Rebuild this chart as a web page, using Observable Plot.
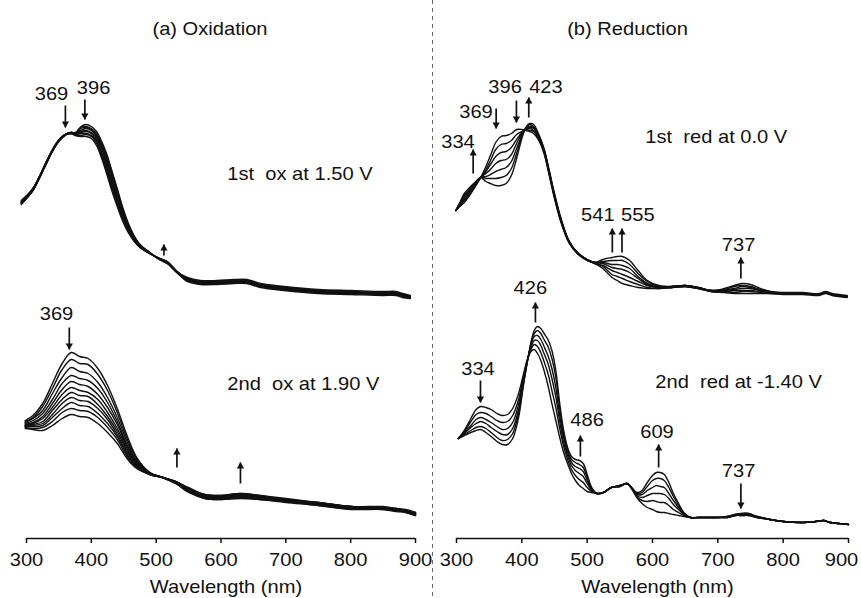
<!DOCTYPE html>
<html><head><meta charset="utf-8">
<script src="https://cdn.jsdelivr.net/npm/d3@7"></script>
<script src="https://cdn.jsdelivr.net/npm/@observablehq/plot@0.6"></script>
<style>
body{margin:0;background:#fff}
#wrap{position:relative;width:861px;height:598px;overflow:hidden;background:#fff}
#wrap svg{position:absolute;top:0}
#sep{position:absolute;left:432px;top:0;width:1px;height:598px;background:repeating-linear-gradient(to bottom,#666 0 4px,transparent 4px 8px)}
#wrap text{white-space:pre}
g[aria-label="x-axis tick"]{stroke-width:1.5px}
</style></head><body>
<div id="wrap"><div id="sep"></div></div>
<script>
// ---------- text ----------
const panelTitles = ["(a) Oxidation", "(b) Reduction"];
const axisTitle = "Wavelength (nm)";
const xTicks = [300, 400, 500, 600, 700, 800, 900];

// ---------- (a) 1st oxidation at 1.50 V : rows = wavelength, columns = successive scans ----------
const ox1Wl = [292,300,310,320,330,340,350,360,369,376,384,392,400,408,416,424,432,440,448,456,465,475,490,505,517,532,548,568,594,620,640,661,697,750,800,850,870,880,892];
const ox1Scans = [
[3.34,3.35,3.35,3.36,3.36,3.36,3.37,3.37,3.38],
[3.40,3.40,3.41,3.41,3.41,3.42,3.42,3.42,3.43],
[3.48,3.48,3.49,3.49,3.49,3.49,3.50,3.50,3.50],
[3.60,3.61,3.61,3.61,3.61,3.62,3.62,3.62,3.62],
[3.74,3.74,3.75,3.75,3.75,3.75,3.76,3.76,3.76],
[3.87,3.87,3.88,3.88,3.88,3.88,3.88,3.89,3.89],
[3.97,3.98,3.98,3.98,3.98,3.98,3.98,3.98,3.99],
[4.03,4.04,4.04,4.04,4.04,4.04,4.04,4.04,4.04],
[4.06,4.06,4.06,4.06,4.06,4.05,4.05,4.05,4.05],
[4.06,4.06,4.05,4.05,4.05,4.04,4.04,4.03,4.03],
[4.12,4.11,4.10,4.08,4.07,4.06,4.05,4.03,4.02],
[4.14,4.12,4.11,4.10,4.08,4.07,4.05,4.04,4.02],
[4.12,4.10,4.09,4.08,4.06,4.05,4.03,4.02,4.00],
[4.07,4.05,4.03,4.02,4.00,3.98,3.97,3.95,3.93],
[3.97,3.95,3.93,3.91,3.89,3.86,3.84,3.82,3.80],
[3.84,3.82,3.79,3.77,3.74,3.72,3.69,3.67,3.64],
[3.67,3.65,3.62,3.60,3.57,3.55,3.52,3.50,3.47],
[3.50,3.48,3.46,3.43,3.41,3.39,3.37,3.34,3.32],
[3.32,3.30,3.29,3.27,3.25,3.23,3.22,3.20,3.18],
[3.17,3.16,3.15,3.13,3.12,3.11,3.10,3.08,3.07],
[3.04,3.03,3.03,3.02,3.01,3.00,3.00,2.99,2.98],
[2.94,2.94,2.93,2.93,2.92,2.92,2.92,2.91,2.91],
[2.86,2.86,2.86,2.86,2.85,2.85,2.85,2.85,2.85],
[2.79,2.79,2.79,2.79,2.80,2.80,2.80,2.80,2.80],
[2.75,2.75,2.76,2.76,2.76,2.76,2.77,2.77,2.77],
[2.66,2.66,2.66,2.66,2.67,2.67,2.67,2.67,2.67],
[2.57,2.58,2.58,2.59,2.59,2.59,2.60,2.60,2.61],
[2.54,2.55,2.55,2.56,2.56,2.56,2.57,2.57,2.58],
[2.54,2.55,2.55,2.56,2.56,2.56,2.57,2.57,2.58],
[2.55,2.56,2.56,2.57,2.57,2.57,2.58,2.58,2.59],
[2.55,2.56,2.56,2.57,2.57,2.57,2.58,2.58,2.59],
[2.51,2.52,2.52,2.53,2.53,2.53,2.54,2.54,2.55],
[2.48,2.49,2.49,2.50,2.50,2.50,2.51,2.51,2.52],
[2.45,2.46,2.46,2.47,2.47,2.47,2.48,2.48,2.49],
[2.44,2.45,2.45,2.46,2.46,2.46,2.47,2.47,2.48],
[2.43,2.44,2.44,2.45,2.45,2.45,2.46,2.46,2.47],
[2.43,2.44,2.44,2.45,2.45,2.45,2.46,2.46,2.47],
[2.41,2.42,2.42,2.43,2.43,2.43,2.44,2.44,2.45],
[2.40,2.40,2.41,2.41,2.41,2.42,2.42,2.42,2.43]];

// ---------- (a) 2nd oxidation at 1.90 V ----------
const ox2Wl = [298,310,325,340,355,369,382,395,410,425,440,455,470,490,510,530,550,575,600,630,660,700,750,800,850,870,885,900];
const ox2Scans = [
[1.18,1.17,1.16,1.15,1.14,1.13,1.13,1.12,1.12,1.11,1.10],
[1.23,1.21,1.20,1.18,1.16,1.15,1.14,1.13,1.12,1.10,1.09],
[1.35,1.32,1.28,1.25,1.22,1.20,1.17,1.15,1.13,1.11,1.08],
[1.55,1.50,1.45,1.39,1.35,1.31,1.28,1.24,1.21,1.17,1.13],
[1.75,1.69,1.61,1.55,1.49,1.44,1.39,1.35,1.30,1.26,1.20],
[1.86,1.79,1.71,1.63,1.57,1.51,1.46,1.41,1.36,1.30,1.24],
[1.82,1.75,1.67,1.60,1.54,1.48,1.43,1.38,1.33,1.28,1.22],
[1.80,1.74,1.65,1.58,1.52,1.46,1.42,1.37,1.32,1.27,1.21],
[1.70,1.64,1.56,1.50,1.44,1.39,1.34,1.30,1.25,1.21,1.15],
[1.53,1.48,1.41,1.36,1.31,1.26,1.22,1.19,1.15,1.11,1.06],
[1.30,1.26,1.21,1.17,1.14,1.10,1.07,1.04,1.02,0.99,0.95],
[1.03,1.00,0.97,0.94,0.92,0.90,0.88,0.86,0.84,0.82,0.80],
[0.81,0.80,0.78,0.77,0.76,0.75,0.74,0.73,0.72,0.71,0.70],
[0.66,0.66,0.66,0.65,0.65,0.65,0.65,0.65,0.64,0.64,0.64],
[0.61,0.61,0.61,0.61,0.61,0.61,0.61,0.61,0.61,0.61,0.61],
[0.55,0.55,0.56,0.56,0.56,0.56,0.56,0.56,0.57,0.57,0.57],
[0.46,0.47,0.47,0.48,0.48,0.49,0.49,0.50,0.50,0.50,0.51],
[0.40,0.40,0.41,0.41,0.42,0.42,0.43,0.43,0.43,0.44,0.44],
[0.39,0.39,0.40,0.40,0.41,0.41,0.42,0.42,0.42,0.43,0.43],
[0.40,0.41,0.41,0.42,0.42,0.43,0.43,0.44,0.44,0.45,0.45],
[0.39,0.39,0.40,0.40,0.41,0.41,0.42,0.42,0.42,0.43,0.43],
[0.36,0.37,0.37,0.38,0.38,0.38,0.38,0.39,0.39,0.39,0.40],
[0.33,0.33,0.34,0.34,0.34,0.35,0.35,0.35,0.36,0.36,0.36],
[0.29,0.30,0.30,0.30,0.31,0.31,0.31,0.32,0.32,0.32,0.32],
[0.29,0.29,0.30,0.30,0.30,0.30,0.31,0.31,0.31,0.31,0.32],
[0.27,0.28,0.28,0.28,0.29,0.29,0.29,0.29,0.30,0.30,0.30],
[0.26,0.26,0.27,0.27,0.27,0.27,0.28,0.28,0.28,0.28,0.29],
[0.23,0.23,0.24,0.24,0.24,0.25,0.25,0.25,0.25,0.26,0.26]];

// ---------- (b) 1st reduction at 0.0 V ----------
const red1Wl = [299,305,312,320,328,337,345,352,360,368,376,384,392,400,406,412,418,426,434,442,450,460,472,485,500,512,524,538,546,554,565,578,592,610,630,650,670,690,710,725,737,750,765,780,800,830,855,865,875,885,898];
const red1Scans = [
[3.28,3.28,3.28,3.28,3.28,3.28,3.28],
[3.32,3.33,3.33,3.34,3.35,3.35,3.36],
[3.36,3.38,3.39,3.41,3.42,3.43,3.45],
[3.43,3.44,3.46,3.47,3.48,3.50,3.51],
[3.51,3.52,3.53,3.54,3.54,3.55,3.56],
[3.61,3.61,3.61,3.61,3.61,3.61,3.61],
[3.72,3.69,3.67,3.65,3.62,3.60,3.57],
[3.83,3.78,3.74,3.69,3.64,3.60,3.55],
[3.96,3.89,3.82,3.75,3.67,3.60,3.53],
[4.02,3.94,3.86,3.78,3.69,3.61,3.53],
[4.03,3.95,3.87,3.79,3.71,3.63,3.55],
[4.05,3.98,3.91,3.84,3.77,3.70,3.63],
[4.09,4.04,3.99,3.95,3.90,3.85,3.80],
[4.09,4.07,4.06,4.05,4.03,4.02,4.00],
[4.08,4.09,4.09,4.10,4.10,4.10,4.11],
[4.07,4.08,4.10,4.11,4.12,4.14,4.15],
[4.05,4.07,4.08,4.10,4.11,4.12,4.14],
[3.98,3.99,4.00,4.01,4.02,4.03,4.04],
[3.85,3.86,3.87,3.88,3.88,3.89,3.90],
[3.63,3.64,3.65,3.66,3.66,3.67,3.68],
[3.40,3.41,3.42,3.43,3.43,3.44,3.45],
[3.16,3.17,3.17,3.18,3.19,3.19,3.20],
[2.96,2.96,2.97,2.97,2.97,2.98,2.98],
[2.85,2.85,2.85,2.86,2.86,2.86,2.86],
[2.78,2.78,2.78,2.79,2.79,2.79,2.79],
[2.75,2.75,2.75,2.76,2.76,2.76,2.76],
[2.70,2.72,2.73,2.75,2.76,2.77,2.79],
[2.61,2.64,2.68,2.71,2.74,2.78,2.81],
[2.58,2.62,2.66,2.70,2.74,2.78,2.82],
[2.55,2.60,2.64,2.69,2.73,2.78,2.82],
[2.53,2.57,2.61,2.66,2.70,2.74,2.78],
[2.51,2.54,2.57,2.60,2.62,2.65,2.68],
[2.50,2.51,2.53,2.54,2.55,2.57,2.58],
[2.50,2.50,2.51,2.51,2.52,2.52,2.53],
[2.51,2.51,2.51,2.52,2.52,2.52,2.52],
[2.52,2.52,2.52,2.53,2.53,2.53,2.53],
[2.50,2.50,2.50,2.51,2.51,2.51,2.51],
[2.47,2.47,2.47,2.48,2.48,2.48,2.48],
[2.46,2.47,2.47,2.48,2.49,2.49,2.50],
[2.45,2.46,2.48,2.49,2.50,2.52,2.53],
[2.45,2.47,2.48,2.50,2.52,2.53,2.55],
[2.45,2.47,2.48,2.50,2.51,2.52,2.54],
[2.45,2.46,2.47,2.48,2.48,2.49,2.50],
[2.45,2.45,2.46,2.46,2.46,2.47,2.47],
[2.44,2.45,2.45,2.45,2.45,2.45,2.46],
[2.44,2.45,2.45,2.45,2.45,2.45,2.46],
[2.43,2.44,2.44,2.44,2.44,2.44,2.45],
[2.45,2.46,2.46,2.46,2.46,2.46,2.47],
[2.43,2.44,2.44,2.44,2.44,2.44,2.45],
[2.42,2.43,2.43,2.43,2.43,2.43,2.44],
[2.41,2.42,2.42,2.42,2.42,2.42,2.43]];

// ---------- (b) 2nd reduction at -1.40 V ----------
const red2Wl = [303,312,322,330,337,345,353,362,370,378,386,395,402,408,414,419,424,429,434,440,446,452,458,464,470,476,482,488,494,500,507,515,525,537,550,561,568,576,584,592,600,606,612,618,625,632,640,648,658,670,685,700,715,727,737,747,760,780,800,830,850,862,872,885,900];
const red2Scans = [
[1.00,1.00,1.00,1.00,1.00,1.00],
[1.08,1.07,1.06,1.05,1.04,1.03],
[1.20,1.17,1.13,1.11,1.08,1.06],
[1.29,1.24,1.19,1.15,1.11,1.08],
[1.32,1.26,1.21,1.17,1.12,1.09],
[1.31,1.25,1.19,1.15,1.10,1.06],
[1.29,1.22,1.16,1.11,1.06,1.02],
[1.25,1.18,1.12,1.07,1.01,0.97],
[1.23,1.16,1.09,1.04,0.98,0.94],
[1.24,1.17,1.10,1.04,0.99,0.94],
[1.30,1.23,1.16,1.10,1.05,1.00],
[1.45,1.39,1.34,1.29,1.25,1.21],
[1.63,1.60,1.57,1.55,1.53,1.51],
[1.78,1.77,1.77,1.76,1.75,1.75],
[1.87,1.89,1.91,1.93,1.95,1.96],
[1.89,1.94,1.98,2.02,2.05,2.08],
[1.85,1.92,1.98,2.03,2.08,2.12],
[1.78,1.86,1.93,1.99,2.05,2.10],
[1.68,1.77,1.85,1.92,1.99,2.05],
[1.53,1.65,1.75,1.83,1.92,1.99],
[1.35,1.48,1.60,1.70,1.80,1.88],
[1.18,1.31,1.42,1.51,1.61,1.68],
[1.01,1.10,1.17,1.23,1.30,1.35],
[0.86,0.92,0.96,1.01,1.05,1.08],
[0.75,0.79,0.83,0.86,0.89,0.91],
[0.65,0.69,0.73,0.76,0.79,0.82],
[0.58,0.63,0.68,0.72,0.76,0.79],
[0.53,0.59,0.65,0.70,0.74,0.78],
[0.50,0.56,0.62,0.67,0.71,0.75],
[0.47,0.51,0.55,0.58,0.61,0.64],
[0.46,0.47,0.48,0.49,0.50,0.51],
[0.45,0.45,0.45,0.45,0.45,0.45],
[0.46,0.46,0.46,0.46,0.46,0.46],
[0.51,0.51,0.51,0.51,0.51,0.51],
[0.52,0.52,0.52,0.53,0.53,0.53],
[0.55,0.55,0.55,0.55,0.55,0.55],
[0.50,0.50,0.50,0.51,0.51,0.51],
[0.41,0.42,0.43,0.44,0.45,0.46],
[0.35,0.38,0.41,0.44,0.46,0.48],
[0.31,0.37,0.43,0.48,0.52,0.56],
[0.29,0.38,0.45,0.51,0.58,0.63],
[0.27,0.37,0.45,0.53,0.60,0.66],
[0.26,0.36,0.45,0.52,0.60,0.66],
[0.26,0.36,0.44,0.51,0.58,0.64],
[0.25,0.33,0.40,0.45,0.51,0.56],
[0.24,0.29,0.34,0.38,0.42,0.45],
[0.23,0.26,0.29,0.31,0.33,0.35],
[0.22,0.23,0.24,0.25,0.25,0.26],
[0.21,0.21,0.21,0.21,0.21,0.21],
[0.21,0.21,0.21,0.21,0.21,0.21],
[0.21,0.21,0.21,0.21,0.21,0.21],
[0.21,0.21,0.21,0.21,0.21,0.21],
[0.22,0.22,0.22,0.21,0.21,0.21],
[0.24,0.24,0.24,0.23,0.23,0.23],
[0.25,0.25,0.24,0.24,0.23,0.23],
[0.25,0.25,0.24,0.24,0.23,0.23],
[0.22,0.22,0.22,0.21,0.21,0.21],
[0.19,0.19,0.19,0.19,0.19,0.19],
[0.17,0.17,0.17,0.17,0.17,0.17],
[0.16,0.16,0.16,0.16,0.16,0.16],
[0.17,0.17,0.17,0.17,0.17,0.17],
[0.18,0.18,0.18,0.18,0.18,0.18],
[0.16,0.16,0.16,0.16,0.16,0.16],
[0.15,0.15,0.15,0.15,0.15,0.15],
[0.14,0.14,0.14,0.14,0.14,0.14]];

// ---------- annotations (wavelength nm, absorbance units) ----------
const oxPeakLabels = ["369", "396", "369"];
const oxPeakLabelNm = [338.6, 403.4, 346.3];
const oxPeakLabelA = [4.39, 4.45, 2.19];
const oxArrowNm = [360, 390, 512, 366, 532, 630];
const oxArrowFrom = [4.33, 4.39, 2.83, 2.11, 0.71, 0.55];
const oxArrowTo = [4.11, 4.19, 2.94, 1.89, 0.90, 0.76];
const oxConditions = ["1st  ox at 1.50 V", "2nd  ox at 1.90 V"];
const oxConditionNm = [609.7, 609.7];
const oxConditionA = [3.59, 1.49];

const redPeakLabels = ["334", "369", "396", "423", "541", "555", "737", "426", "334", "486", "609", "737"];
const redPeakLabelNm = [302.3, 329.8, 374.4, 436.9, 516.4, 577.5, 731.7, 413.1, 332.9, 499.8, 606.9, 731.7];
const redPeakLabelA = [3.91, 4.21, 4.46, 4.46, 3.18, 3.18, 2.88, 2.45, 1.64, 1.13, 1.01, 0.62];
const redArrowNm = [325.5, 360.7, 391.7, 410.6, 538.5, 553.3, 735.3, 420.8, 336.7, 489.6, 609.4, 735.3];
const redArrowFrom = [3.65, 4.30, 4.38, 4.21, 2.86, 2.86, 2.60, 2.16, 1.58, 0.82, 0.71, 0.55];
const redArrowTo = [3.89, 4.10, 4.16, 4.41, 3.10, 3.10, 2.81, 2.36, 1.36, 1.03, 0.94, 0.30];
const redConditions = ["1st  red at 0.0 V", "2nd  red at -1.40 V"];
const redConditionNm = [589, 604.3];
const redConditionA = [3.96, 1.51];

// ---------- build tables ----------
function tidy(wl, rows, group) {
  const out = [];
  rows.forEach((r, i) => r.forEach((v, k) => out.push({wl: wl[i], a: v, scan: group + "-" + k})));
  return out;
}
function zip3(names, xs, ys) { return names.map((t, i) => ({t, x: xs[i], y: ys[i]})); }
function arrows(xs, from, to) { return xs.map((x, i) => ({x, y1: from[i], y2: to[i], up: to[i] > from[i]})); }

const INK = "#111";
function panel(o) {
  const up = o.arrows.filter(d => d.up), down = o.arrows.filter(d => !d.up);
  const head = {x: "x", y: "y2", symbol: "triangle", r: 2.7, fill: INK, stroke: "none"};
  return Plot.plot({
    width: o.width, height: 598,
    marginTop: 0, marginBottom: 60, marginLeft: 26, marginRight: o.marginRight,
    x: {domain: [300, 900], ticks: xTicks, tickSize: 5, tickPadding: 10, label: null, tickFormat: d => String(d)},
    y: {domain: [0, 5.38], axis: null},
    style: {fontFamily: "'Liberation Sans', Arial, Helvetica, sans-serif", fontSize: "17.5px", color: INK, background: "transparent", overflow: "visible"},
    marks: [
      Plot.ruleY([0], {stroke: INK, strokeWidth: 1.5}),
      Plot.line(o.spectra, {x: "wl", y: "a", z: "scan", stroke: INK, strokeWidth: 1.4, curve: "catmull-rom"}),
      Plot.link(o.arrows, {x1: "x", x2: "x", y1: "y1", y2: "y2", stroke: INK, strokeWidth: 1.7}),
      Plot.dot(up, {...head, dy: 4}),
      Plot.dot(down, {...head, dy: -4, rotate: 180}),
      Plot.text(o.peaks, {x: "x", y: "y", text: "t", fill: INK, lineAnchor: "bottom", textAnchor: "middle"}),
      Plot.text(o.conditions, {x: "x", y: "y", text: "t", fill: INK, lineAnchor: "bottom", textAnchor: "start"}),
      Plot.text([o.title], {frameAnchor: "top", dx: o.titleDx, dy: 34, fill: INK, lineAnchor: "bottom"}),
      Plot.text([axisTitle], {frameAnchor: "bottom", dx: 5, dy: 54, fill: INK, lineAnchor: "bottom"})
    ]
  });
}

const left = panel({
  width: 430, marginRight: 15, title: panelTitles[0], titleDx: -11,
  spectra: [...tidy(ox1Wl, ox1Scans, "ox1"), ...tidy(ox2Wl, ox2Scans, "ox2")],
  arrows: arrows(oxArrowNm, oxArrowFrom, oxArrowTo),
  peaks: zip3(oxPeakLabels, oxPeakLabelNm, oxPeakLabelA),
  conditions: zip3(oxConditions, oxConditionNm, oxConditionA)
});
const right = panel({
  width: 431, marginRight: 13, title: panelTitles[1], titleDx: -25,
  spectra: [...tidy(red1Wl, red1Scans, "red1"), ...tidy(red2Wl, red2Scans, "red2")],
  arrows: arrows(redArrowNm, redArrowFrom, redArrowTo),
  peaks: zip3(redPeakLabels, redPeakLabelNm, redPeakLabelA),
  conditions: zip3(redConditions, redConditionNm, redConditionA)
});
const wrap = document.getElementById("wrap");
left.style.left = "0px"; right.style.left = "430px";
wrap.appendChild(left); wrap.appendChild(right);

// the source typeface is slightly wider than Arial: stretch every label horizontally about its anchor
const STRETCH = 1.15;
for (const svg of [left, right]) {
  for (const t of svg.querySelectorAll("text")) {
    const b = t.getBBox();
    const anchor = getComputedStyle(t).textAnchor;
    const cx = anchor === "start" ? b.x : anchor === "end" ? b.x + b.width : b.x + b.width / 2;
    let extra = "";
    if (svg === right && t.textContent === "900") extra = " translate(-7,0)";
    const tr = t.getAttribute("transform") || "";
    t.setAttribute("transform", `${tr}${extra} translate(${cx},0) scale(${STRETCH},1) translate(${-cx},0)`);
  }
}
</script>
</body></html>
